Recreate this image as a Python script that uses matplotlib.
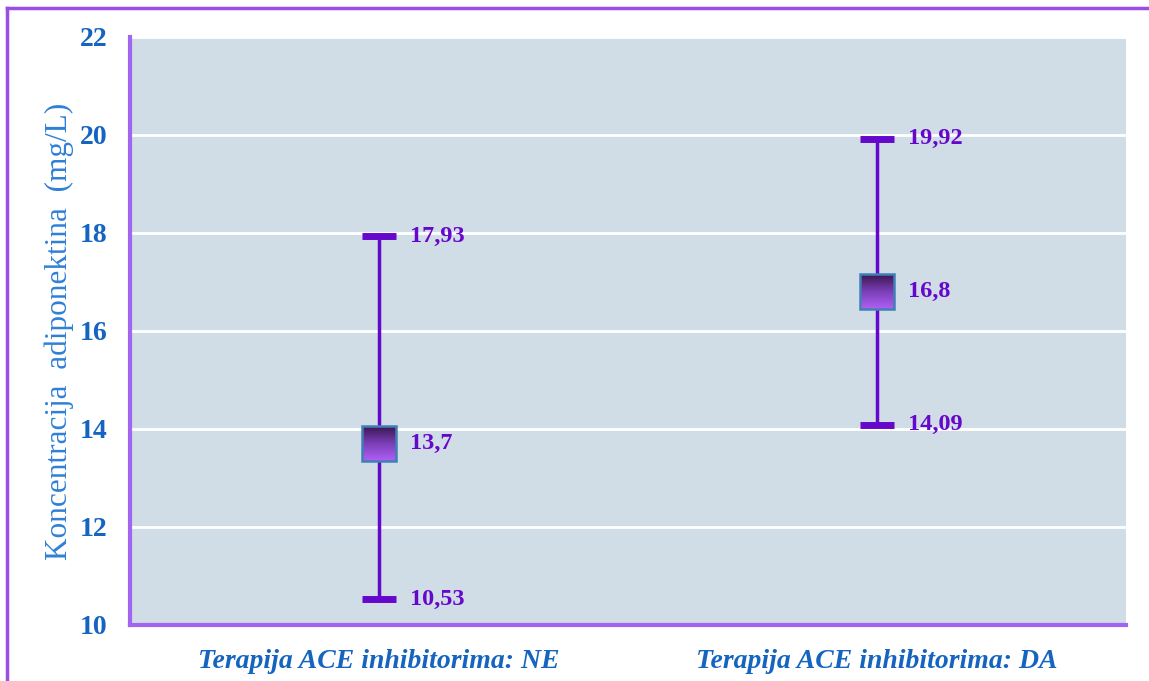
import matplotlib
matplotlib.use("Agg")
import matplotlib.pyplot as plt
import numpy as np
from matplotlib.lines import Line2D
from matplotlib.colors import LinearSegmentedColormap
from matplotlib.patches import Rectangle

categories = ["Terapija ACE inhibitorima: NE", "Terapija ACE inhibitorima: DA"]
means = [13.7, 16.8]
lower = [10.53, 14.09]
upper = [17.93, 19.92]
mean_labels = ["13,7", "16,8"]
lower_labels = ["10,53", "14,09"]
upper_labels = ["17,93", "19,92"]
yticks = [10, 12, 14, 16, 18, 20, 22]

serif = ["Liberation Serif", "DejaVu Serif"]
purple = "#6608cc"
blue = "#1565c0"

fig = plt.figure(figsize=(11.49, 6.81), dpi=100)
ax = fig.add_axes([130/1149, 1-625/681, 996/1149, 588/681])
ax.set_facecolor("#d0dce6")
ax.set_xlim(-0.5, 1.5)
ax.set_ylim(10, 22)
ax.set_yticks(yticks)
ax.set_yticklabels([str(t) for t in yticks], fontfamily=serif, fontweight="bold",
                   fontsize=20, color=blue)
ax.set_xticks(range(len(categories)))
ax.set_xticklabels(categories, fontfamily=serif, fontweight="bold", fontstyle="italic",
                   fontsize=20, color=blue)
ax.tick_params(axis="both", length=0)
ax.tick_params(axis="y", pad=16)
ax.tick_params(axis="x", pad=17)
ax.grid(axis="y", color="white", linewidth=2)
ax.set_axisbelow(True)
for s in ["top", "right"]:
    ax.spines[s].set_visible(False)
for s in ["left", "bottom"]:
    ax.spines[s].set_color("#a066f0")
    ax.spines[s].set_linewidth(3)
ax.set_ylabel("Koncentracija  adiponektina  (mg/L)", fontfamily=serif, fontsize=22.5,
              color="#2f80d6")
ax.yaxis.set_label_coords(-0.056, 0.5)

x = np.arange(len(categories))
for xi, m, lo, hi in zip(x, means, lower, upper):
    ax.plot([xi, xi], [lo, hi], color=purple, lw=2.5, zorder=3, solid_capstyle="butt")
    for v in (lo, hi):
        ax.plot([xi - 0.035, xi + 0.035], [v, v], color=purple, lw=5, zorder=3,
                solid_capstyle="butt")

cmap = LinearSegmentedColormap.from_list("g", ["#3a1650", "#7b3fb8", "#b060f5"])
grad = np.linspace(0, 1, 100).reshape(-1, 1)
hw, hh = 0.035, 0.355
for xi, m in zip(x, means):
    ax.imshow(grad, extent=[xi - hw, xi + hw, m - hh, m + hh], cmap=cmap,
              aspect="auto", zorder=4, origin="upper")
    ax.add_patch(Rectangle((xi - hw, m - hh), 2*hw, 2*hh, fill=False,
                           edgecolor="#3f7fb5", lw=1.8, zorder=5))
ax.set_xlim(-0.5, 1.5)
ax.set_ylim(10, 22)

for xi, m, lo, hi, ml, ll, ul in zip(x, means, lower, upper, mean_labels, lower_labels, upper_labels):
    for v, t in ((m, ml), (lo, ll), (hi, ul)):
        ax.text(xi + 0.063, v, t, fontfamily=serif, fontweight="bold", fontsize=17.5,
                color=purple, va="center", ha="left", zorder=6)

border = "#9a4ee6"
fig.add_artist(Line2D([7/1149, 1], [1-8/681, 1-8/681], color=border, lw=2.5,
                      transform=fig.transFigure))
fig.add_artist(Line2D([7/1149, 7/1149], [0, 1-8/681], color=border, lw=2.5,
                      transform=fig.transFigure))

fig.savefig("out.png", dpi=100, facecolor="white")
